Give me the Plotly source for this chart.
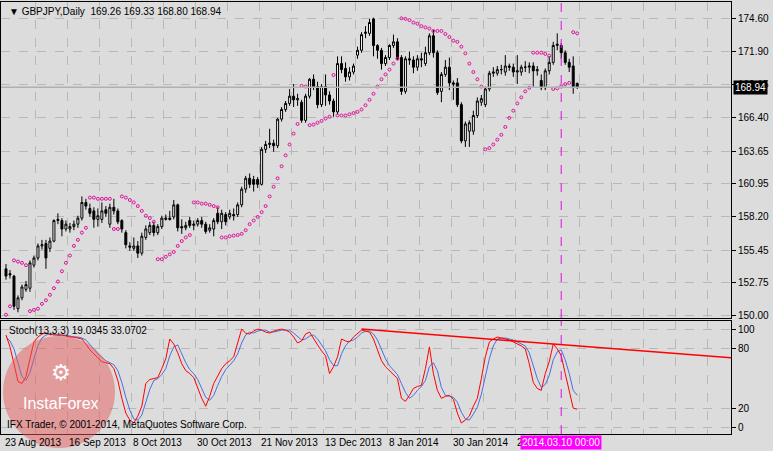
import plotly.graph_objects as go

opens = [153.9,153.5,153.3,150.6,151.5,152.2,152.3,154.2,154.8,155.8,156.0,155.6,156.2,157.9,157.9,157.2,157.2,157.4,157.6,158.1,
159.4,158.9,158.7,158.0,158.0,158.8,157.6,159.0,158.7,157.9,156.9,155.8,155.6,155.8,155.2,156.5,156.9,157.5,156.9,157.4,
158.0,158.1,158.2,159.2,157.4,157.3,157.9,157.5,157.6,157.9,157.6,157.1,157.2,158.5,157.8,158.4,158.2,158.4,158.4,159.2,
160.5,161.4,161.3,161.3,160.9,163.8,164.2,164.3,164.1,166.3,167.1,167.6,168.2,167.9,167.7,166.2,168.2,169.6,169.0,167.5,
169.0,168.3,167.8,166.9,170.9,170.5,169.8,170.2,171.6,172.0,173.4,173.4,174.6,172.4,172.0,170.9,171.4,172.4,172.7,171.4,
168.6,171.3,171.2,170.6,171.3,170.9,171.8,173.2,171.8,168.6,170.0,170.6,169.3,169.3,167.5,164.5,165.3,165.3,166.6,167.7,
167.5,168.8,170.1,170.1,170.4,170.2,170.7,170.6,170.2,170.2,170.6,170.6,170.7,170.3,169.5,168.9,170.3,171.0,172.4,172.4,
171.8,171.0,170.7,169.26]
closes = [153.3,153.4,150.8,151.5,152.4,152.6,154.4,154.8,155.8,155.9,154.8,156.2,157.9,158.0,157.2,157.6,157.4,157.6,158.1,159.4,
159.1,158.5,158.0,158.3,158.7,158.5,159.0,158.7,157.8,157.2,155.9,155.7,155.8,155.2,156.6,157.2,157.5,156.9,157.4,158.1,
158.1,158.0,159.2,157.3,157.3,157.5,157.5,157.6,157.9,157.6,157.0,157.3,157.9,157.8,158.5,157.8,158.5,158.3,159.2,160.5,
161.4,160.9,160.9,160.9,163.8,164.2,164.3,164.1,166.3,167.1,167.6,168.2,167.9,168.0,166.2,168.2,169.6,169.0,167.5,169.0,
168.3,167.8,166.9,170.9,170.4,169.8,170.2,170.7,172.0,173.3,173.5,174.3,172.4,172.0,170.9,171.4,172.4,172.7,171.3,168.6,
171.3,171.2,170.6,171.3,171.2,171.8,173.2,171.8,168.5,170.0,170.6,169.3,169.2,167.5,164.5,165.9,166.0,166.6,167.8,168.0,
168.8,170.1,170.2,170.4,170.4,170.7,170.6,170.2,170.3,170.6,170.6,170.7,170.3,170.4,168.9,170.3,171.0,172.4,172.5,171.8,
171.0,170.6,169.0,168.94]
highs = [154.3,153.8,153.4,151.7,152.6,152.9,154.6,155.0,156.0,156.3,156.3,156.5,158.0,158.5,158.1,157.9,157.7,157.9,158.3,159.9,
159.7,159.3,159.0,158.9,159.4,159.1,159.3,159.7,158.9,158.0,157.1,156.1,156.5,156.2,156.9,157.5,157.8,157.8,157.6,158.3,
158.4,158.7,159.6,159.3,158.0,157.8,158.2,157.9,158.1,158.2,157.8,157.6,158.1,159.0,158.8,158.6,158.8,158.9,159.4,160.7,
161.6,161.8,161.6,161.5,164.0,164.5,165.5,164.6,166.4,167.3,167.8,168.8,169.2,168.4,167.9,168.4,169.7,170.0,169.4,169.2,
170.0,168.6,168.0,171.5,171.5,171.0,170.6,170.9,172.3,173.5,174.0,174.6,174.7,172.5,172.2,171.6,172.5,173.3,173.0,171.6,
171.5,171.9,171.5,171.6,171.8,172.3,173.4,173.7,172.0,170.2,171.2,171.4,169.5,169.7,167.7,166.1,166.2,167.0,168.1,168.3,
169.0,170.3,170.6,170.7,170.8,171.6,170.9,170.9,171.6,170.8,171.1,171.0,171.0,170.7,170.0,170.5,171.5,172.7,173.4,172.6,
172.0,171.3,171.5,169.33]
lows = [153.0,153.1,150.5,150.3,151.3,152.0,152.0,154.0,154.6,155.5,153.9,155.3,156.1,157.6,156.6,157.0,156.9,157.1,157.3,157.9,
158.8,158.2,157.3,157.4,157.7,158.2,157.3,158.4,157.6,156.9,155.6,155.4,155.4,154.8,155.0,156.3,156.7,156.6,156.7,157.2,
157.9,157.9,158.0,157.0,156.8,157.1,157.3,157.1,157.4,157.3,156.8,156.9,156.6,157.6,157.2,157.5,158.0,157.9,158.2,159.0,
160.2,160.6,160.3,160.6,160.8,163.5,163.9,163.6,163.9,166.1,166.9,167.4,167.3,167.4,166.0,166.0,168.0,168.7,167.2,167.3,
167.4,167.5,166.5,166.7,170.1,169.4,169.5,170.0,171.3,171.8,173.0,173.2,171.5,171.3,170.4,170.7,171.2,172.2,171.2,168.3,
168.4,170.8,170.1,170.3,170.6,170.7,171.6,171.4,168.3,167.7,169.8,168.7,167.9,167.3,164.3,164.0,164.0,165.0,166.4,167.4,
167.3,168.6,169.8,169.9,170.0,169.9,170.3,169.8,169.2,169.9,170.2,170.1,169.0,169.9,168.7,168.7,170.0,170.8,172.0,171.3,
170.8,170.2,168.4,168.80]
sar = [150.1,150.8,154.6,154.5,154.4,154.2,150.4,150.5,150.6,151.0,151.3,151.75,152.3,152.85,153.7,154.4,155.0,155.8,156.3,156.9,
157.3,159.8,159.8,159.7,159.7,159.7,159.7,157.2,157.2,159.9,159.8,159.6,159.4,159.1,158.7,158.3,158.1,157.8,154.7,154.7,
154.9,155.1,155.3,155.8,156.2,156.5,156.7,159.4,159.4,159.3,159.3,159.2,159.1,159.0,156.5,156.5,156.6,156.65,156.7,156.8,
157.1,157.6,157.9,158.2,158.6,159.1,159.9,160.7,161.4,162.4,163.3,164.2,165.1,165.9,169.06,169.0,165.8,165.85,166.0,166.15,
166.35,166.5,169.95,166.6,166.6,166.6,166.7,166.8,166.9,167.1,167.45,167.9,168.4,169.0,169.6,170.0,170.4,170.9,171.3,174.65,
174.6,174.5,174.3,174.2,174.0,173.9,173.8,173.6,173.6,173.6,173.35,173.1,172.8,172.7,172.3,171.75,170.9,170.2,169.6,169.0,
163.8,163.9,164.2,164.6,165.0,165.65,166.4,167.0,167.6,168.1,168.6,168.9,171.8,171.8,171.8,171.7,171.55,168.8,168.85,169.0,
169.2,169.3,173.5,173.4]
stoch_k = [94,82,65,47,45,52,70,87,92,95,96,95,94,94,94,93,92,92,91,90,85,79,75,71,67,66,65,60,48,30,15,8,5,12,22,45,49,50,51,60,
70,90,85,76,65,58,55,51,40,30,22,32,45,52,60,65,68,72,85,100,96,95,98,100,99,97,96,98,99,100,99,97,92,86,88,95,97,90,84,78,
73,55,62,72,90,88,87,92,96,99,98,97,90,80,68,62,58,55,50,30,27,33,40,42,43,60,82,55,38,30,32,33,29,15,5,8,12,22,30,50,
72,87,90,92,91,90,89,87,85,83,80,65,46,40,38,55,67,85,80,73,55,38,20,19.03]
stoch_d = [92,88,80,65,52,48,56,70,83,91,94,95,95,94,94,94,93,92,92,91,89,85,80,75,71,68,66,64,58,46,31,18,9,8,13,26,39,48,50,54,
60,73,82,84,75,66,59,55,49,40,31,28,33,43,52,59,64,68,75,86,94,97,96,98,99,99,97,97,98,99,99,99,96,92,89,90,93,94,90,84,
78,69,63,63,75,83,88,89,92,96,98,98,95,89,79,70,63,58,54,45,36,30,33,38,42,48,62,66,58,41,33,32,31,26,16,9,8,14,21,34,
51,70,83,90,91,91,90,89,87,85,83,76,64,50,41,44,53,69,77,79,69,55,38,33.07]
trend_x = [89, 181.5]
trend_y = [100, 71]
price_ticks = [174.60,171.90,169.15,166.40,163.65,160.95,158.20,155.45,152.75,150.00]
date_idx = [0,16,32,48,64,80,96,112,128]
date_labels = ["23 Aug 2013","16 Sep 2013","8 Oct 2013","30 Oct 2013","21 Nov 2013","13 Dec 2013","8 Jan 2014","30 Jan 2014","21 Feb 2014"]
cursor_idx = 139
cursor_label = "2014.03.10 00:00"
last_price = 168.94

idx = list(range(len(closes)))
FONT = "Liberation Sans"
BG = "#dcdcdc"
GRID = "#b8b8b8"
FS = 10

fig = go.Figure()
fig.add_trace(go.Candlestick(x=idx, open=opens, high=highs, low=lows, close=closes,
    increasing=dict(fillcolor="white", line=dict(color="black", width=1)),
    decreasing=dict(fillcolor="black", line=dict(color="black", width=1)),
    whiskerwidth=0, xaxis="x", yaxis="y", showlegend=False, hoverinfo="skip"))
fig.add_trace(go.Scatter(x=idx, y=sar, mode="markers", xaxis="x", yaxis="y",
    marker=dict(symbol="circle-open", size=3, color="#e0109a", line=dict(width=1)), showlegend=False))
fig.add_trace(go.Scatter(x=idx, y=stoch_d, mode="lines", xaxis="x2", yaxis="y2",
    line=dict(color="#4a6fe0", width=1), showlegend=False))
fig.add_trace(go.Scatter(x=idx, y=stoch_k, mode="lines", xaxis="x2", yaxis="y2",
    line=dict(color="#ff0000", width=1), showlegend=False))
fig.add_trace(go.Scatter(x=trend_x, y=trend_y, mode="lines", xaxis="x2", yaxis="y2",
    line=dict(color="#ff0000", width=1.5), showlegend=False))

H = 432.0
def py(pix):
    return (434 - pix) / H

xr = [-1.25, 181.5]
gridx = [7.5 + 8 * k for k in range(23)]
common_x = dict(range=xr, showticklabels=False, tickvals=gridx, showgrid=True,
                gridcolor=GRID, griddash="dash", gridwidth=1, zeroline=False,
                showline=True, mirror=True, linecolor="black", linewidth=1, ticks="")
fig.update_layout(
    width=773, height=451, paper_bgcolor=BG, plot_bgcolor=BG,
    margin=dict(l=1, r=42, t=2, b=17),
    font=dict(family=FONT, size=FS, color="black"),
    xaxis=dict(domain=[0, 1], anchor="y", rangeslider=dict(visible=False), **common_x),
    xaxis2=dict(domain=[0, 1], anchor="y2", **common_x),
    yaxis=dict(domain=[py(318), 1], range=[149.83, 176.0], side="right",
               tickvals=price_ticks, ticktext=[f"{v:.2f}" for v in price_ticks],
               showgrid=True, gridcolor=GRID, griddash="dash", zeroline=False,
               showline=True, mirror=True, linecolor="black", ticks="outside",
               ticklen=4, tickcolor="black", tickfont=dict(size=FS)),
    yaxis2=dict(domain=[0, py(321)], range=[-6.1, 108.2], side="right",
                tickvals=[100, 80, 20, 0], showgrid=True, gridcolor=GRID, griddash="dash",
                zeroline=False, showline=True, mirror=True, linecolor="black",
                ticks="outside", ticklen=4, tickcolor="black", tickfont=dict(size=FS)),
    hovermode=False,
)

shapes = [
    dict(type="line", xref="x", yref="y", x0=xr[0], x1=xr[1], y0=last_price, y1=last_price,
         line=dict(color="#b0b0b0", width=1.5)),
    dict(type="line", xref="x", yref="paper", x0=cursor_idx, x1=cursor_idx, y0=py(318), y1=1,
         line=dict(color="#e010e0", width=1, dash="dash")),
    dict(type="line", xref="x2", yref="paper", x0=cursor_idx, x1=cursor_idx, y0=0, y1=py(321),
         line=dict(color="#e010e0", width=1, dash="dash")),
    dict(type="circle", xref="paper", yref="paper", x0=2/730, x1=114/730, y0=py(448), y1=py(336),
         fillcolor="rgba(232,90,90,0.5)", line=dict(width=0), layer="above"),
]
fig.update_layout(shapes=shapes)

ann = [
    dict(xref="paper", yref="paper", x=0.008, y=py(12), text="▼ GBPJPY,Daily  169.26 169.33 168.80 168.94",
         showarrow=False, xanchor="left", yanchor="middle", font=dict(size=FS)),
    dict(xref="paper", yref="paper", x=0.008, y=py(330), text="Stoch(13,3,3) 19.0345 33.0702",
         showarrow=False, xanchor="left", yanchor="middle", font=dict(size=FS)),
    dict(xref="paper", yref="paper", x=0.006, y=py(424), text="IFX Trader, © 2001-2014, MetaQuotes Software Corp.",
         showarrow=False, xanchor="left", yanchor="middle", font=dict(size=FS)),
    dict(xref="paper", yref="paper", x=60/730, y=py(403), text="InstaForex",
         showarrow=False, xanchor="center", yanchor="middle", font=dict(size=16, color="white")),
    dict(xref="paper", yref="paper", x=60/730, y=py(372), text="⚙",
         showarrow=False, xanchor="center", yanchor="middle", font=dict(size=22, color="white", family="DejaVu Sans")),
    dict(xref="paper", yref="y", x=1.003, y=last_price, text=f"{last_price:.2f}", bgcolor="black",
         showarrow=False, xanchor="left", yanchor="middle", font=dict(size=FS, color="white"), borderpad=1),
]
for i, lab in zip(date_idx, date_labels):
    ann.append(dict(xref="x2", yref="paper", x=i - 0.7, y=py(442), text=lab, showarrow=False,
                    xanchor="left", yanchor="middle", font=dict(size=FS)))
ann.append(dict(xref="x2", yref="paper", x=cursor_idx, y=py(442), text=cursor_label, bgcolor="#ff00ff",
                showarrow=False, xanchor="center", yanchor="middle", font=dict(size=FS, color="white"), borderpad=1))
fig.update_layout(annotations=ann)

fig.write_html("out.html", config={"displayModeBar": False},
               post_script="document.body.style.margin='0';document.body.style.overflow='hidden';")
